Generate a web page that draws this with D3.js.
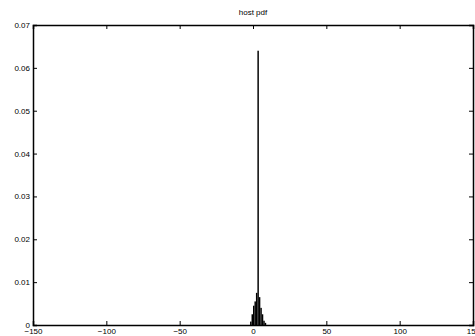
<!DOCTYPE html>
<html><head><meta charset="utf-8">
<script src="https://cdn.jsdelivr.net/npm/d3@7"></script>
<style>body{margin:0;background:#fff}svg{display:block}text{font-family:"Liberation Sans",Arial,sans-serif}</style>
</head><body>
<svg id="c" width="475" height="336"></svg>
<script>
const binStarts = [-2, -1, 0, 1, 2, 3, 4, 5, 6, 7, 8];
const binValues = [0.0008, 0.0025, 0.0045, 0.0055, 0.0075, 0.064, 0.0065, 0.004, 0.0025, 0.001, 0.0005];
const xTicks = [-150, -100, -50, 0, 50, 100, 150];
const yTicks = [0, 0.01, 0.02, 0.03, 0.04, 0.05, 0.06, 0.07];
const title = "host pdf";

const svg = d3.select("#c");
const L = 33, R = 473, T = 25, B = 325;
const x = d3.scaleLinear().domain([-150, 150]).range([L, R]);
const y = d3.scaleLinear().domain([0, 0.07]).range([B, T]);

svg.append("g").selectAll("rect").data(binStarts).join("rect")
  .attr("x", d => x(d))
  .attr("width", d => Math.max(1, x(d + 1) - x(d)))
  .attr("y", (d, i) => y(binValues[i]))
  .attr("height", (d, i) => B - y(binValues[i]))
  .attr("fill", "#000");

const fmtY = d => d === 0 ? "0" : d3.format(".2f")(d);
const gx = svg.append("g").attr("transform", `translate(0,${B})`)
  .call(d3.axisBottom(x).tickValues(xTicks).tickSize(-4).tickPadding(2).tickFormat(d3.format("d")));
const gy = svg.append("g").attr("transform", `translate(${L},0)`)
  .call(d3.axisLeft(y).tickValues(yTicks).tickSize(-4).tickPadding(3).tickFormat(fmtY));
svg.append("g").attr("transform", `translate(0,${T})`)
  .call(d3.axisTop(x).tickValues(xTicks).tickSize(-4).tickFormat(""));
svg.append("g").attr("transform", `translate(${R},0)`)
  .call(d3.axisRight(y).tickValues(yTicks).tickSize(-4).tickFormat(""));
svg.selectAll(".domain").attr("stroke", "#000").attr("stroke-width", 1.5);
svg.selectAll(".tick line").attr("stroke", "#000");
svg.selectAll(".tick text").attr("font-size", 8).attr("fill", "#000");
gx.selectAll(".tick text").attr("dy", "0.85em");

svg.append("text").attr("x", (L + R) / 2).attr("y", 15).attr("text-anchor", "middle")
  .attr("font-size", 8).attr("fill", "#000").text(title);
</script>
</body></html>
